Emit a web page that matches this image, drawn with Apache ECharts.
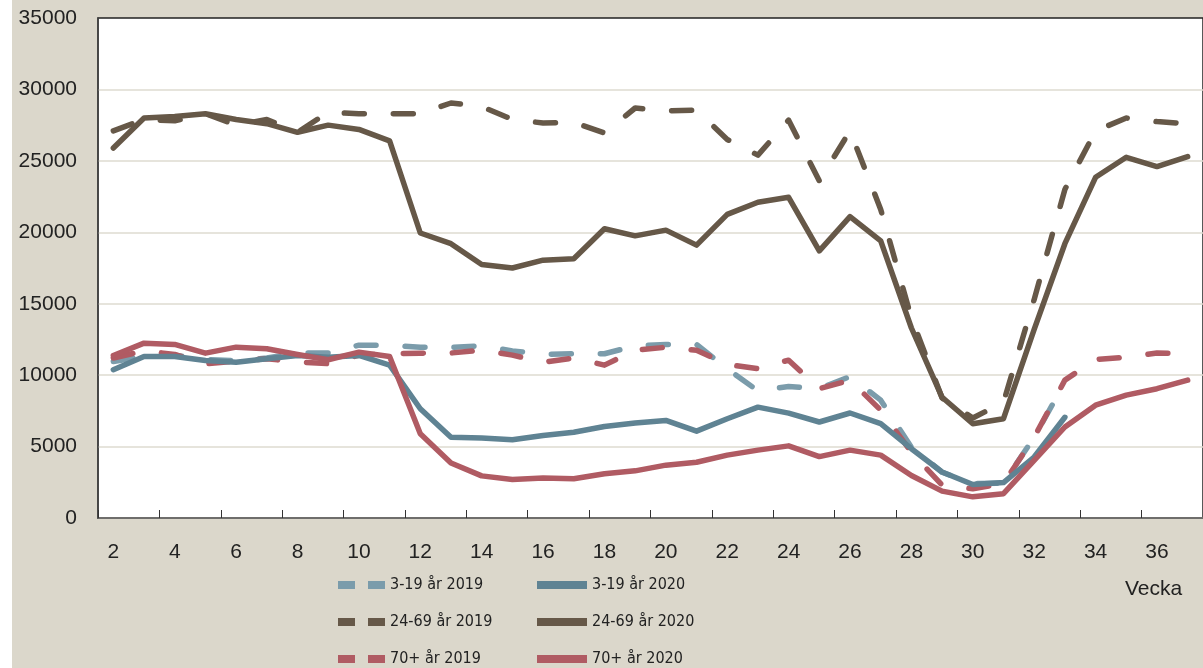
<!DOCTYPE html>
<html>
<head>
<meta charset="utf-8">
<script src="https://cdn.jsdelivr.net/npm/echarts@6/dist/echarts.min.js"></script>
<style>
  html, body { margin: 0; padding: 0; background: #dbd7cb; }
  #chart { width: 1203px; height: 668px; }
</style>
</head>
<body>
<div id="chart"></div>
<script>
// weeks shown on the x axis
var weeks = ['2', '3', '4', '5', '6', '7', '8', '9', '10', '11', '12', '13', '14', '15', '16', '17', '18', '19',
  '20', '21', '22', '23', '24', '25', '26', '27', '28', '29', '30', '31', '32', '33', '34', '35', '36', '37']
var yTicks = [0, 5000, 10000, 15000, 20000, 25000, 30000, 35000]

// 3-19 years (data stops at week 33)
var young2019 = [10950, 11300, 11400, 11100, 11000, 11200, 11550, 11550, 12100, 12100, 11950, 11950, 12050, 11700,
  11450, 11500, 11500, 12050, 12150, 12150, 10450, 8900, 9200, 9050, 9900, 8250, 4950, 3200, 2400, 2450, 5650, 9500]
var young2020 = [10380, 11300, 11310, 11030, 10900, 11150, 11380, 11250, 11380, 10700, 7650, 5650, 5600, 5480,
  5780, 6000, 6400, 6650, 6830, 6080, 6950, 7760, 7340, 6720, 7350, 6600, 4850, 3220, 2350, 2480, 4270, 7050]

// 24-69 years
var adult2019 = [27100, 27900, 27800, 28300, 27500, 27900, 27000, 28400, 28300, 28300, 28300, 29050, 28800, 27900,
  27650, 27700, 26950, 28700, 28500, 28550, 26500, 25400, 27850, 23600, 27100, 21600, 14000, 8400, 7000, 8100,
  15300, 23000, 27100, 28000, 27750, 27600]
var adult2020 = [25900, 28000, 28100, 28300, 27900, 27600, 27000, 27500, 27200, 26400, 19950, 19200, 17750, 17500,
  18050, 18150, 20250, 19750, 20150, 19100, 21250, 22100, 22450, 18700, 21100, 19400, 13300, 8450, 6600, 6950,
  13200, 19200, 23850, 25250, 24600, 25300]

// 70+ years
var senior2019 = [11200, 11700, 11450, 10800, 10990, 11150, 10920, 10800, 11400, 11500, 11540, 11550, 11750, 11400,
  10900, 11200, 10700, 11750, 11950, 11750, 10750, 10450, 11050, 9050, 9650, 7550, 4600, 2300, 2050, 2420, 5650,
  9650, 11100, 11250, 11550, 11500]
var senior2020 = [11370, 12240, 12150, 11540, 11960, 11850, 11450, 11080, 11610, 11310, 5900, 3850, 2950, 2700,
  2800, 2750, 3100, 3300, 3700, 3900, 4400, 4750, 5050, 4300, 4750, 4400, 2980, 1880, 1480, 1700, 4030, 6370,
  7900, 8600, 9050, 9650]

var blueLight = '#7b9cab'
var blueDark = '#5f8393'
var brown = '#665848'
var red = '#b05b63'
var legendFont = '"DejaVu Sans Condensed", "Liberation Sans"'

function makeLine (name, data, color, dashed) {
  return {
    name: name,
    type: 'line',
    data: data,
    symbol: 'none',
    smooth: false,
    lineStyle: {
      color: color,
      width: 5.5,
      type: dashed ? [20, 29] : 'solid',
      cap: 'round',
      join: 'round'
    },
    itemStyle: { color: color }
  }
}

var chart = echarts.init(document.getElementById('chart'))
var option = {
  backgroundColor: '#dbd7cb',
  animation: false,
  textStyle: { fontFamily: 'Liberation Sans' },
  grid: {
    left: 98,
    top: 18,
    width: 1112,
    height: 500,
    show: true,
    backgroundColor: '#ffffff',
    borderColor: '#222222',
    borderWidth: 1.5
  },
  graphic: [
    { type: 'rect', left: 0, top: 0, shape: { width: 12, height: 668 }, style: { fill: '#ffffff' } },
    {
      type: 'text',
      left: 1125,
      top: 579,
      style: { text: 'Vecka', fill: '#222222', font: '21px "Liberation Sans"' }
    }
  ],
  legend: [
    {
      orient: 'vertical',
      left: 334,
      top: 577,
      height: 100,
      padding: 0,
      itemWidth: 47,
      itemHeight: 16,
      itemGap: 21,
      data: ['3-19 år 2019', '24-69 år 2019', '70+ år 2019'],
      itemStyle: { opacity: 0 },
      lineStyle: { type: [17, 13], cap: 'butt', width: 8 },
      textStyle: { color: '#222222', fontSize: 16, fontFamily: legendFont }
    },
    {
      orient: 'vertical',
      left: 533,
      top: 577,
      height: 100,
      padding: 0,
      itemWidth: 50,
      itemHeight: 16,
      itemGap: 21,
      data: ['3-19 år 2020', '24-69 år 2020', '70+ år 2020'],
      itemStyle: { opacity: 0 },
      lineStyle: { cap: 'butt', width: 8 },
      textStyle: { color: '#222222', fontSize: 16, fontFamily: legendFont }
    }
  ],
  xAxis: {
    type: 'category',
    data: weeks,
    boundaryGap: true,
    axisLine: { lineStyle: { color: '#555555', width: 1.5 } },
    axisTick: { show: true, inside: true, length: 8, lineStyle: { color: '#333333' } },
    axisLabel: { interval: 1, color: '#222222', fontSize: 21, margin: 24 },
    splitLine: { show: false }
  },
  yAxis: {
    type: 'value',
    min: yTicks[0],
    max: yTicks[yTicks.length - 1],
    interval: 5000,
    axisLine: { show: true, lineStyle: { color: '#444444', width: 1.5 } },
    axisTick: { show: false },
    axisLabel: {
      color: '#222222',
      fontSize: 21,
      margin: 21,
      formatter: function (v) { return String(v) }
    },
    splitLine: { showMaxLine: false, lineStyle: { color: '#dedbd0', width: 1.5 } }
  },
  series: [
    makeLine('3-19 år 2019', young2019, blueLight, true),
    makeLine('24-69 år 2019', adult2019, brown, true),
    makeLine('70+ år 2019', senior2019, red, true),
    makeLine('3-19 år 2020', young2020, blueDark, false),
    makeLine('24-69 år 2020', adult2020, brown, false),
    makeLine('70+ år 2020', senior2020, red, false)
  ]
}
chart.setOption(option, true)
</script>
</body>
</html>
